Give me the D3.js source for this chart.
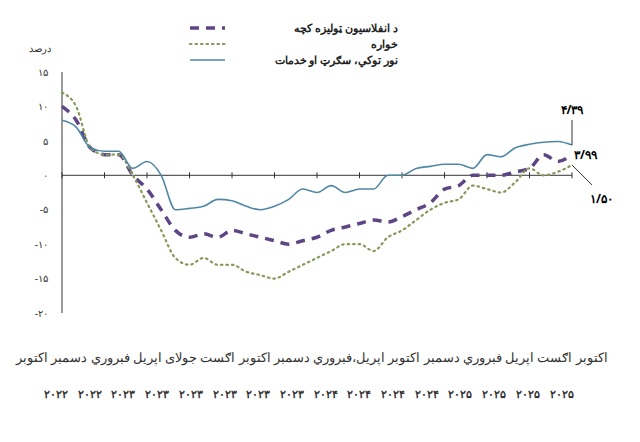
<!DOCTYPE html><html><head><meta charset="utf-8">
<script src="https://cdn.jsdelivr.net/npm/d3@7"></script>
<style>body{margin:0;background:#fff;font-family:"Noto Sans",sans-serif}</style></head><body>
<svg id="chart" width="640" height="442"></svg>
<script>
const inflation = [10,8,4,3,3,0,-2,-5,-8,-9,-8.5,-9,-8,-8.5,-9,-9.5,-10,-9.5,-9,-8,-7.5,-7,-6.5,-6.8,-6,-5,-4,-2,-1.5,0,0,0,0.5,1,3,2,2.99];
const food = [12,10,4,3,3,0,-4,-8,-12,-13,-12,-13,-13,-14,-14.5,-15,-14,-13,-12,-11,-10,-10,-11,-9,-8,-6.5,-5,-4,-3.5,-1.5,-2,-2.5,-1,1,0,0.5,1.5];
const services = [8,7,4,3.5,3.5,1,2,0,-5,-4.8,-4.5,-3.5,-3.7,-4.5,-5,-4.5,-3.5,-2,-2.5,-1.5,-2.5,-2,-2,0,0,1,1.3,1.6,1.6,1,3,2.7,4,4.5,4.8,4.9,4.39];
const yTicks = [15,10,5,0,-5,-10,-15,-20];
const yearLabels = ["۲۰۲۲","۲۰۲۲","۲۰۲۳","۲۰۲۳","۲۰۲۳","۲۰۲۳","۲۰۲۳","۲۰۲۳","۲۰۲۴","۲۰۲۴","۲۰۲۴","۲۰۲۴","۲۰۲۵","۲۰۲۵","۲۰۲۵","۲۰۲۵"];
const monthLine = "اکتوبر اګست اپریل فبروري دسمبر اکتوبر اپریل،فبروري دسمبر اکتوبر اګست جولای اپریل فبروري دسمبر اکتوبر";
const legendNames = ["د انفلاسیون ټولیزه کچه","خواره","نور توکي، سګرټ او خدمات"];

const fa = n => String(n).replace(/\d/g, d => "۰۱۲۳۴۵۶۷۸۹"[d]);
const svg = d3.select("#chart");
const x = d3.scaleLinear().domain([0, inflation.length - 1]).range([62, 572]);
const y = d3.scaleLinear().domain([-20, 15]).range([313, 72]);

svg.append("line").attr("x1", 62).attr("x2", 62).attr("y1", 72).attr("y2", 313).attr("stroke", "#333");
svg.append("g").attr("transform", "translate(62,0)")
  .call(d3.axisLeft(y).tickValues(yTicks).tickSize(0).tickPadding(14).tickFormat(d => d < 0 ? "-" + fa(-d) : fa(d)))
  .call(g => g.select(".domain").remove())
  .selectAll("text").attr("font-size", 10).attr("fill", "#333");
svg.append("text").attr("x", 40).attr("y", 52).attr("font-size", 10).attr("text-anchor", "middle").attr("fill", "#333").text("درصد");

svg.append("line").attr("x1", 62).attr("x2", 572).attr("y1", y(0)).attr("y2", y(0)).attr("stroke", "#333");
svg.selectAll(".tk").data(d3.range(0, inflation.length, 3)).enter().append("line")
  .attr("x1", d => x(d)).attr("x2", d => x(d)).attr("y1", y(0) - 3).attr("y2", y(0) + 3).attr("stroke", "#333");

const line = d3.line().x((d, i) => x(i)).y(d => y(d)).curve(d3.curveMonotoneX);
const styles = [
  {data: inflation, color: "#5e4585", w: 3.5, dash: "9,7"},
  {data: food, color: "#869a5c", w: 2.2, dash: "1.5,4", cap: "round"},
  {data: services, color: "#4f88a6", w: 1.6, dash: null}
];
styles.forEach(s => svg.append("path").datum(s.data).attr("d", line).attr("fill", "none")
  .attr("stroke", s.color).attr("stroke-width", s.w).attr("stroke-dasharray", s.dash).attr("stroke-linecap", s.cap || "butt"));

// legend
styles.forEach((s, i) => {
  const ly = 28 + i * 16;
  svg.append("line").attr("x1", 190).attr("x2", 225).attr("y1", ly).attr("y2", ly)
    .attr("stroke", s.color).attr("stroke-width", s.w).attr("stroke-dasharray", s.dash).attr("stroke-linecap", s.cap || "butt");
  svg.append("text").attr("x", 398).attr("y", ly + 4).attr("text-anchor", "end").attr("font-size", 11)
    .attr("font-weight", "bold").attr("fill", "#222").text(legendNames[i]);
});

// end labels
const n = inflation.length - 1;
svg.append("line").attr("x1", x(n)).attr("x2", x(n)).attr("y1", y(services[n])).attr("y2", 120).attr("stroke", "#333");
svg.append("text").attr("x", x(n)).attr("y", 114).attr("text-anchor", "middle").attr("font-size", 12).attr("font-weight", "bold").text("۴/۳۹");
svg.append("text").attr("x", x(n) + 2).attr("y", y(inflation[n]) + 4).attr("font-size", 12).attr("font-weight", "bold").text("۳/۹۹");
svg.append("line").attr("x1", x(n)).attr("x2", x(n) + 20).attr("y1", y(food[n])).attr("y2", y(food[n]) + 20).attr("stroke", "#333");
svg.append("text").attr("x", x(n) + 18).attr("y", y(food[n]) + 38).attr("font-size", 12).attr("font-weight", "bold").text("۱/۵۰");

svg.append("text").attr("x", 312).attr("y", 362).attr("text-anchor", "middle").attr("direction", "rtl")
  .attr("font-size", 12.5).attr("fill", "#333").text(monthLine);
svg.selectAll(".yr").data(yearLabels).enter().append("text")
  .attr("x", (d, i) => 56 + i * 33.7).attr("y", 398).attr("text-anchor", "middle")
  .attr("font-size", 11).attr("font-weight", "bold").attr("fill", "#333").text(d => d);
</script></body></html>
